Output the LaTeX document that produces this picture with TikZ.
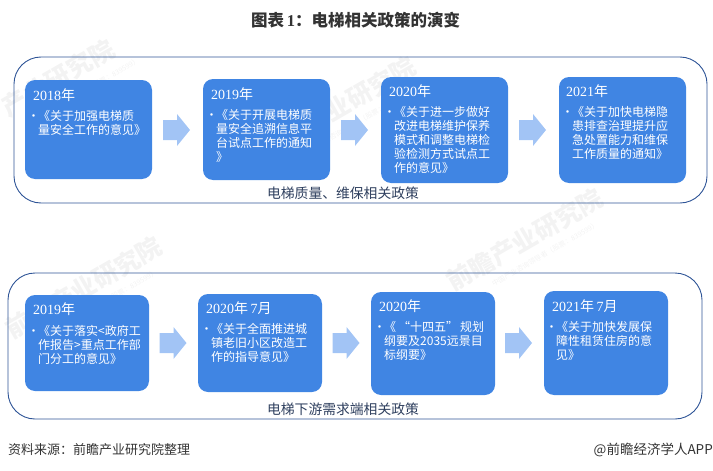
\documentclass[tikz,border=0pt]{standalone}
\usepackage{fontspec}
\setmainfont{Noto Sans CJK SC}
\newfontfamily\yearfont{Liberation Serif}
\definecolor{boxblue}{HTML}{4085E3}
\definecolor{arrowblue}{HTML}{A2C4F5}
\definecolor{frameblue}{HTML}{2F5597}
\definecolor{labelblue}{HTML}{2E3F5E}
\definecolor{wmgrey}{HTML}{F3F3F3}
\definecolor{darktext}{HTML}{333333}
\newcommand{\bul}{\llap{\fontsize{12}{14}\selectfont •\hspace{-1.5pt}}}
\newcommand{\yr}[1]{{\yearfont #1}}
\tikzset{
  frame/.style={draw=frameblue,line width=0.9pt,rounded corners=27pt},
  card/.style={fill=boxblue,rounded corners=10pt},
  flowarrow/.pic={\fill[arrowblue] (-13.5,-10) -- (0.5,-10) -- (0.5,-16) -- (13.5,0) -- (0.5,16) -- (0.5,10) -- (-13.5,10) -- cycle;},
  yeartext/.style={anchor=west,inner sep=0pt,text=white,font=\fontsize{14}{14}\selectfont},
  body/.style={anchor=north west,inner sep=0pt,text=white,align=left,font=\fontsize{12}{14}\selectfont},
  grouplabel/.style={inner sep=0pt,text=labelblue,font=\fontsize{13.8}{14}\selectfont},
  wmark/.style={inner sep=0pt,text=wmgrey,rotate=30,font=\fontsize{25}{25}\bfseries\selectfont},
  wsub/.style={inner sep=0pt,text=wmgrey,rotate=30,font=\fontsize{7}{7}\selectfont},
  foot/.style={inner sep=0pt,text=darktext,font=\fontsize{13}{14}\selectfont}
}
\begin{document}
\begin{tikzpicture}[x=1pt,y=-1pt]
\useasboundingbox (0,0) rectangle (713,471);
% watermarks
\node[wmark] (w1) at (58,78) {产业研究院};
\node[wsub] (w1s) at (86,90) {中国产业咨询领导者（股票：839599）};
\node[wmark] (w2) at (338,108) {前瞻产业研究院};
\node[wsub] (w2s) at (358,122) {中国产业咨询领导者（股票：839599）};
\node[wmark] (w3) at (525,240) {前瞻产业研究院};
\node[wsub] (w3s) at (545,254) {中国产业咨询领导者（股票：839599）};
\node[wmark] (w4) at (84,288) {前瞻产业研究院};
\node[wsub] (w4s) at (104,302) {中国产业咨询领导者（股票：839599）};
% title
\node[inner sep=0pt,text=darktext,font=\fontsize{16.5}{18}\bfseries\selectfont] (title) at (355.5,20) {图表\,\yr{1}：电梯相关政策的演变};
% frames
\draw[frame] (14,57) rectangle (707,203);
\draw[frame] (8,273) rectangle (702,419);
% top cards
\fill[card] (25,80) rectangle (152,179);
\fill[card] (203,79) rectangle (330,180);
\fill[card] (381,77) rectangle (508,183);
\fill[card] (559,77) rectangle (686,183);
\pic (a1) at (176.5,130) {flowarrow};
\pic (a2) at (354.5,130) {flowarrow};
\pic (a3) at (532.5,130) {flowarrow};
\node[yeartext] (y1) at (33,95) {\yr{2018}年};
\node[body] (b1) at (38,110) {\bul《关于加强电梯质\\量安全工作的意见》};
\node[yeartext] (y2) at (211,94) {\yr{2019}年};
\node[body] (b2) at (216,109) {\bul《关于开展电梯质\\量安全追溯信息平\\台试点工作的通知\\》};
\node[yeartext] (y3) at (389,91) {\yr{2020}年};
\node[body] (b3) at (394,106) {\bul《关于进一步做好\\改进电梯维护保养\\模式和调整电梯检\\验检测方式试点工\\作的意见》};
\node[yeartext] (y4) at (566,91) {\yr{2021}年};
\node[body] (b4) at (572,106) {\bul《关于加快电梯隐\\患排查治理提升应\\急处置能力和维保\\工作质量的通知》};
\node[grouplabel] (l1) at (343,193) {电梯质量、维保相关政策};
% bottom cards
\fill[card] (25,295) rectangle (149,391);
\fill[card] (198,294) rectangle (322,392);
\fill[card] (371,292) rectangle (495,395);
\fill[card] (544,291) rectangle (668,395);
\pic (a4) at (173,343) {flowarrow};
\pic (a5) at (346,343) {flowarrow};
\pic (a6) at (518.5,343) {flowarrow};
\node[yeartext] (y5) at (33,309) {\yr{2019}年};
\node[body] (b5) at (38,325) {\bul《关于落实<政府工\\作报告>重点工作部\\门分工的意见》};
\node[yeartext] (y6) at (206,308) {\yr{2020}年\,\yr{7}月};
\node[body] (b6) at (211,323) {\bul《关于全面推进城\\镇老旧小区改造工\\作的指导意见》};
\node[yeartext] (y7) at (379,306) {\yr{2020}年};
\node[body] (b7) at (384,321) {\bul《\,“十四五”\,规划\\纲要及2035远景目\\标纲要》};
\node[yeartext] (y8) at (552,306) {\yr{2021}年\,\yr{7}月};
\node[body] (b8) at (556,321) {\bul《关于加快发展保\\障性租赁住房的意\\见》};
\node[grouplabel] (l2) at (343,409) {电梯下游需求端相关政策};
% footer
\node[foot,anchor=west] (src) at (8,450) {资料来源：前瞻产业研究院整理};
\node[foot,anchor=east,font=\fontsize{13.5}{14}\selectfont] (app) at (713,450) {@前瞻经济学人APP};
\end{tikzpicture}
\end{document}
